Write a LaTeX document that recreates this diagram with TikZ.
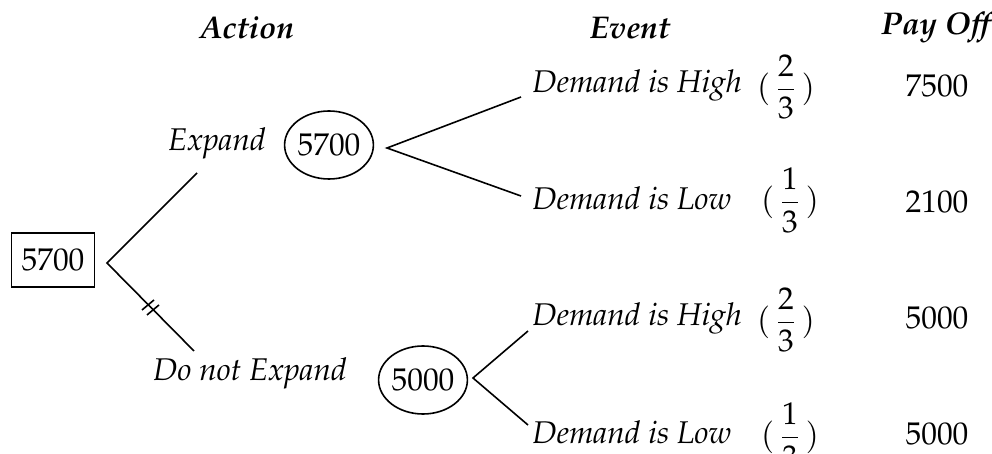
\documentclass[tikz,border=0pt]{standalone}
\usepackage[T1]{fontenc}
\usepackage{mathpazo}
\usetikzlibrary{shapes.geometric}
\newcommand{\pfrac}[2]{$(\,{\displaystyle\frac{#1}{#2}}\,)$}
\begin{document}
\begin{tikzpicture}[x=0.5pt,y=-0.5pt,
  every node/.style={font=\fontsize{15.7}{19}\selectfont, inner sep=0pt},
  conn/.style={line width=0.8pt},
  hdr/.style={font=\fontsize{15.7}{19}\selectfont\bfseries\itshape},
  lbl/.style={font=\fontsize{15.7}{19}\selectfont\itshape},
  evt/.style={font=\fontsize{15.7}{19}\selectfont\itshape, anchor=west},
  prob/.style={},
  chance/.style={draw, ellipse, line width=0.8pt, minimum width=40pt, minimum height=34pt},
  decision/.style={draw, rectangle, line width=0.6pt, minimum width=41.5pt, minimum height=27pt}]
\useasboundingbox (0,0) rectangle (992,454);
% headers
\node[hdr] (hA) at (247,28) {Action};
\node[hdr] (hE) at (630,28) {Event};
\node[hdr] (hP) at (936,28) {Pay Off};
% root
\node[decision] (root) at (53,260) {5700};
\coordinate (rb) at (107,263);
\coordinate (eu) at (197,173);
\coordinate (dl) at (194,351);
\draw[conn] (eu) -- (rb) -- (dl);
% double tick on rejected branch
\coordinate (t1) at (148,305);
\coordinate (t2) at (153,310);
\draw[line width=0.8pt] ([shift={(-6,5)}]t1) -- ([shift={(6,-5)}]t1);
\draw[line width=0.8pt] ([shift={(-6,5)}]t2) -- ([shift={(6,-5)}]t2);
\node[lbl] (lexp) at (217,143) {Expand};
\node[lbl] (lno) at (250,373) {Do not Expand};
% chance nodes
\node[chance] (c1) at (329,145) {5700};
\node[chance] (c2) at (423,380) {5000};
\coordinate (c1o) at (387,148);
\coordinate (c2o) at (473,378);
\coordinate (e1) at (521,97);
\coordinate (e2) at (521,196);
\coordinate (e3) at (528,331);
\coordinate (e4) at (528,425);
\draw[conn] (e1) -- (c1o) -- (e2);
\draw[conn] (e3) -- (c2o) -- (e4);
% events
\node[evt] (ev1) at (532,85) {Demand is High};
\node[evt] (ev2) at (532,198) {Demand is Low};
\node[evt] (ev3) at (532,318) {Demand is High};
\node[evt] (ev4) at (532,432) {Demand is Low};
\node[prob] (p1) at (786,87) {\pfrac{2}{3}};
\node[prob] (p2) at (790,200) {\pfrac{1}{3}};
\node[prob] (p3) at (786,320) {\pfrac{2}{3}};
\node[prob] (p4) at (790,435) {\pfrac{1}{3}};
% payoffs
\node (v1) at (937,86) {7500};
\node (v2) at (937,202) {2100};
\node (v3) at (937,318) {5000};
\node (v4) at (937,434) {5000};
\end{tikzpicture}
\end{document}
